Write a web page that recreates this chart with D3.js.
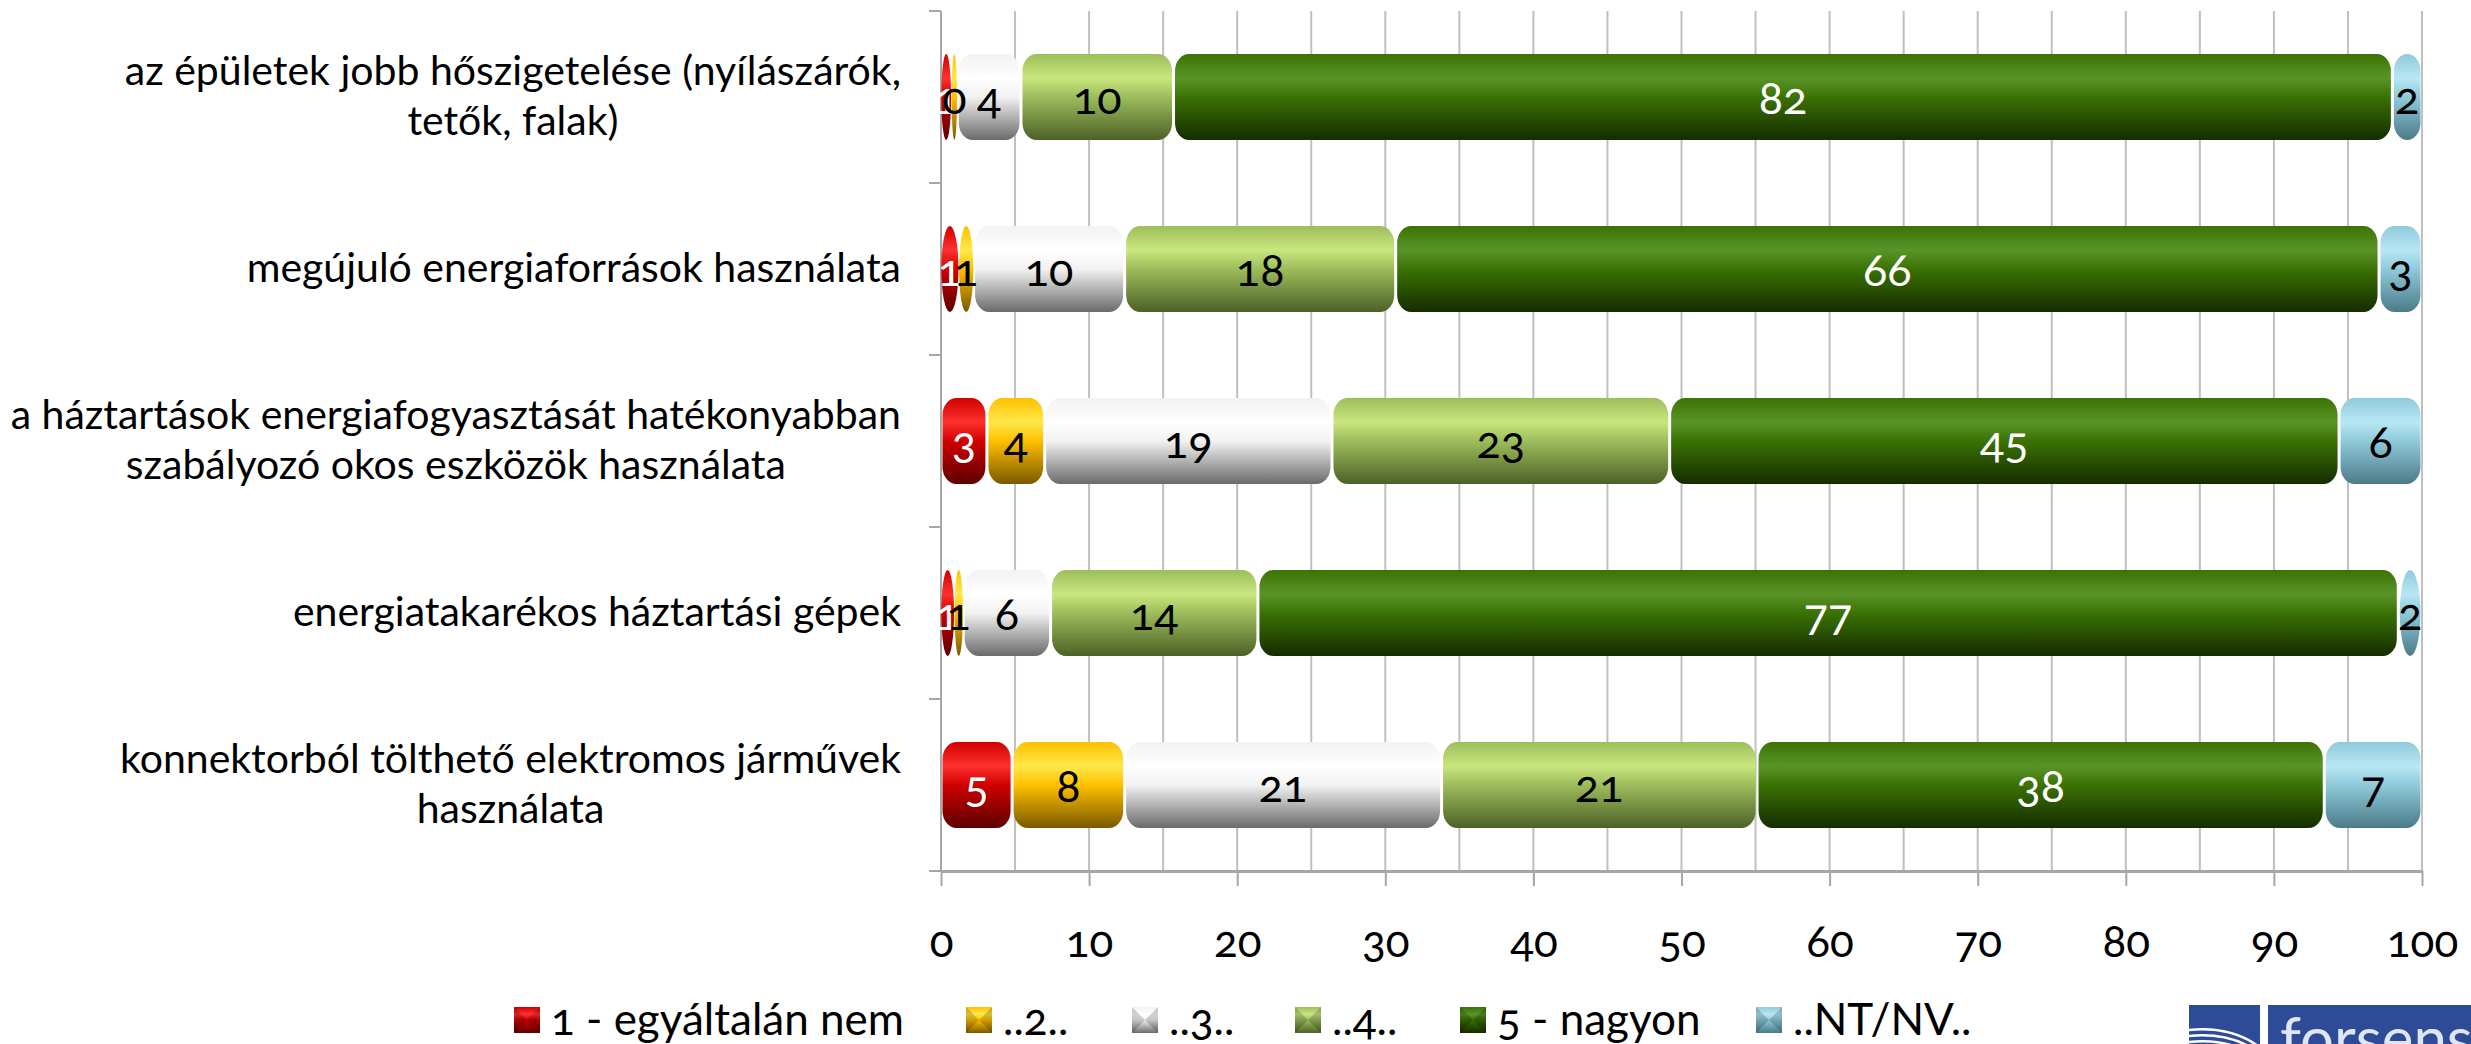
<html>
<head>
<meta charset="utf-8">
<title>Energiahatékonysági eszközök - megítélés</title>
<script src="https://cdn.jsdelivr.net/npm/d3@7"></script>
<style>
	body { margin: 0; background: #ffffff; }
	.lbl { font-family: Lato, "Noto Sans", sans-serif; }
	.num { font-family: Lato, "Noto Sans", sans-serif; font-variant-numeric: oldstyle-nums; }
</style>
</head>
<body>
<div id="chart"></div>

<script>

	// categories (already broken into lines as in the original)
	var categories = [
		["az épületek jobb hőszigetelése (nyílászárók,", "tetők, falak)"],
		["megújuló energiaforrások használata"],
		["a háztartások energiafogyasztását hatékonyabban", "szabályozó okos eszközök használata"],
		["energiatakarékos háztartási gépek"],
		["konnektorból tölthető elektromos járművek", "használata"]
	];

	var seriesNames = ["1 - egyáltalán nem", "..2..", "..3..", "..4..", "5 - nagyon", "..NT/NV.."];

	// percentages per category
	var s1 = [0.7, 1.2, 3.1, 0.9, 4.8];
	var s2 = [0.4, 1.0, 3.9, 0.6, 7.6];
	var s3 = [4.3, 10.2, 19.4, 5.9, 21.4];
	var s4 = [10.3, 18.3, 22.8, 14.0, 21.3];
	var s5 = [82.3, 66.4, 45.2, 77.0, 38.3];
	var s6 = [2.0, 2.9, 5.6, 1.6, 6.6];

	var xTicks = [0, 10, 20, 30, 40, 50, 60, 70, 80, 90, 100];

	var series = [s1, s2, s3, s4, s5, s6];

	// colours: top, highlight, dark bottom, label colour
	var pal = [
		{ c: "#d00000", h: "#ff3030", d: "#5c0000", t: "#ffffff" },
		{ c: "#ffc000", h: "#ffe84a", d: "#7a5800", t: "#000000" },
		{ c: "#f2f2f2", h: "#ffffff", d: "#6a6a6a", t: "#000000" },
		{ c: "#9dbd5c", h: "#c9e77e", d: "#4c6126", t: "#000000" },
		{ c: "#3b7204", h: "#5a9428", d: "#142c00", t: "#ffffff" },
		{ c: "#8fcadb", h: "#b8e7f3", d: "#4b7b88", t: "#000000" }
	];

	var W = 2471, H = 1044;
	var x0 = 941, x1 = 2422, yTop = 11, yBot = 871;

	var svg = d3.select("#chart").append("svg")
		.attr("width", W)
		.attr("height", H);

	var x = d3.scaleLinear().domain([0, 100]).range([x0, x1]);
	var y = d3.scaleBand().domain(d3.range(categories.length)).range([yTop, yBot])
		.paddingInner(0.5).paddingOuter(0.25);

	// gradients
	var defs = svg.append("defs");
	pal.forEach(function(p, i) {
		var g = defs.append("linearGradient")
			.attr("id", "grad" + i)
			.attr("x1", 0).attr("y1", 0).attr("x2", 0).attr("y2", 1);
		g.append("stop").attr("offset", "0%").attr("stop-color", p.c);
		g.append("stop").attr("offset", "28%").attr("stop-color", p.h);
		g.append("stop").attr("offset", "50%").attr("stop-color", p.c);
		g.append("stop").attr("offset", "100%").attr("stop-color", p.d);
	});

	// grid lines every 5
	svg.append("g").selectAll("line")
		.data(d3.range(0, 101, 5))
		.enter().append("line")
		.attr("x1", function(d) { return x(d); })
		.attr("x2", function(d) { return x(d); })
		.attr("y1", yTop)
		.attr("y2", yBot)
		.attr("stroke", "#bfbfbf")
		.attr("stroke-width", 2);

	// left axis
	svg.append("line")
		.attr("x1", x0).attr("x2", x0).attr("y1", yTop).attr("y2", yBot)
		.attr("stroke", "#a6a6a6").attr("stroke-width", 2);
	svg.append("g").selectAll("line")
		.data(d3.range(categories.length + 1))
		.enter().append("line")
		.attr("x1", x0 - 12).attr("x2", x0)
		.attr("y1", function(d) { return yTop + d * y.step(); })
		.attr("y2", function(d) { return yTop + d * y.step(); })
		.attr("stroke", "#a6a6a6").attr("stroke-width", 2);

	// bottom axis
	var xAxis = svg.append("g")
		.attr("transform", "translate(0," + yBot + ")")
		.call(d3.axisBottom(x).tickValues(xTicks).tickSize(15).tickPadding(40).tickSizeOuter(0));
	xAxis.select(".domain").attr("stroke", "#a6a6a6").attr("stroke-width", 3);
	xAxis.selectAll(".tick line").attr("stroke", "#a6a6a6").attr("stroke-width", 2);
	xAxis.selectAll(".tick text")
		.attr("class", "num")
		.attr("font-size", 44)
		.attr("fill", "#000000");

	// stacked segments
	var rows = categories.map(function(c, i) {
		var acc = 0;
		return series.map(function(s, k) {
			var seg = { row: i, k: k, v: s[i], a: acc, b: acc + s[i] };
			acc += s[i];
			return seg;
		});
	});
	var segs = [].concat.apply([], rows);
	var bh = y.bandwidth();

	function gap(d) { return (x(d.b) - x(d.a)) < 20 ? 0.6 : 3; }
	function segW(d) { return Math.max(1, x(d.b) - x(d.a) - gap(d)); }

	svg.append("g").selectAll("rect")
		.data(segs)
		.enter().append("rect")
		.attr("x", function(d) { return x(d.a) + gap(d) / 2; })
		.attr("y", function(d) { return y(d.row); })
		.attr("width", segW)
		.attr("height", bh)
		.attr("rx", function(d) { return Math.min(segW(d) / 2, 14); })
		.attr("ry", function(d) { return segW(d) < 26 ? bh / 2 : 17; })
		.attr("fill", function(d) { return "url(#grad" + d.k + ")"; });

	// data labels
	svg.append("g").selectAll("text")
		.data(segs)
		.enter().append("text")
		.attr("class", "num")
		.attr("x", function(d) { return x((d.a + d.b) / 2); })
		.attr("y", function(d) { return y(d.row) + bh / 2 + 17; })
		.attr("text-anchor", "middle")
		.attr("font-size", 45)
		.attr("fill", function(d) { return pal[d.k].t; })
		.text(function(d) { return d3.format(".0f")(d.v); });

	// category labels, centred block right-aligned at the axis
	var catG = svg.append("g").selectAll("text")
		.data(categories)
		.enter().append("text")
		.attr("class", "lbl")
		.attr("font-size", 41)
		.attr("fill", "#000000")
		.attr("text-anchor", "middle");
	catG.each(function(lines, i) {
		var t = d3.select(this);
		var cy = y(i) + bh / 2;
		var n = lines.length;
		lines.forEach(function(l, j) {
			t.append("tspan")
				.attr("y", cy + (j - (n - 1) / 2) * 50 + 13)
				.text(l);
		});
		var wmax = 0;
		t.selectAll("tspan").each(function() { wmax = Math.max(wmax, this.getComputedTextLength()); });
		t.selectAll("tspan").attr("x", 901 - wmax / 2);
	});

	// legend
	var legX = [514, 966, 1132, 1295, 1460, 1756];
	var leg = svg.append("g").selectAll("g")
		.data(seriesNames)
		.enter().append("g")
		.attr("transform", function(d, i) { return "translate(" + legX[i] + ",1007)"; });
	leg.append("rect")
		.attr("width", 26).attr("height", 26)
		.attr("fill", function(d, i) { return "url(#grad" + i + ")"; });
	leg.append("path")
		.attr("d", "M0,0 L13,13 L0,26 Z M26,0 L13,13 L26,26 Z")
		.attr("fill", "#000000").attr("opacity", 0.18);
	leg.append("text")
		.attr("class", "lbl num")
		.attr("x", 37).attr("y", 28)
		.attr("font-size", 44)
		.text(function(d) { return d; });

	// logo at the bottom right (cut by the page edge, as in the original)
	var logo = svg.append("g");
	logo.append("rect").attr("x", 2189).attr("y", 1005).attr("width", 71).attr("height", 60).attr("fill", "#2d4b96");
	logo.append("rect").attr("x", 2268).attr("y", 1005).attr("width", 210).attr("height", 60).attr("fill", "#2d4b96");
	[0, 6, 12].forEach(function(o) {
		logo.append("path")
			.attr("d", "M2189," + (1030 + o) + " Q2230," + (1026 + o) + " 2258," + (1046 + o))
			.attr("fill", "none").attr("stroke", "#ffffff").attr("stroke-width", 2.5);
	});
	logo.append("text")
		.attr("class", "lbl")
		.attr("x", 2280).attr("y", 1060)
		.attr("font-size", 60)
		.attr("fill", "#dfe6f3")
		.text("forsense");

</script>
</body>
</html>
